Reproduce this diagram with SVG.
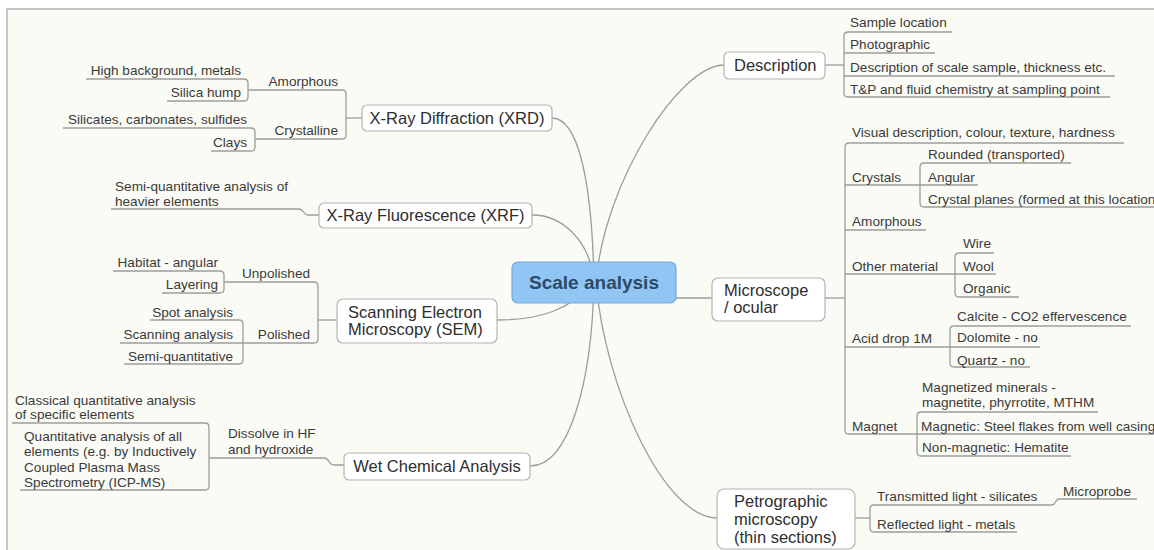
<svg xmlns="http://www.w3.org/2000/svg" width="1154" height="550" viewBox="0 0 1154 550">
<style>
.ln{fill:none;stroke:#9c9c9c;stroke-width:1.3}
.box{fill:#ffffff;stroke:#b3b3b3;stroke-width:1.2}
.mt{font-family:"Liberation Sans",Arial,sans-serif;font-size:16.5px;fill:#2e2e2e}
.st{font-family:"Liberation Sans",Arial,sans-serif;font-size:13.6px;fill:#3a3a3a}
.e{text-anchor:end}
.m{text-anchor:middle}
</style>
<rect x="0" y="0" width="1154" height="550" fill="#ffffff"/>
<rect x="7" y="9" width="1170" height="570" fill="#fbfbf6" stroke="#c6c6c6" stroke-width="2"/>

<g id="connectors">
  <path class="ln" d="M 552 118 C 578 118 592 180 594 282"/>
  <path class="ln" d="M 532 215 C 562 215 590 240 594 282"/>
  <path class="ln" d="M 497 320 C 540 320 570 310 594 282"/>
  <path class="ln" d="M 530 466 C 570 466 592 380 594 282"/>
  <path class="ln" d="M 724 65 C 680 65 605 180 596 282"/>
  <path class="ln" d="M 717 518 C 665 518 605 390 596 282"/>
  <path class="ln" d="M 676 298 H 712"/>
  <path class="ln" d="M 825 65 H 844"/>
  <path class="ln" d="M 848 32 Q 844 32 844 36 V 93 Q 844 97 848 97"/>
  <path class="ln" d="M 825 298 H 845"/>
  <path class="ln" d="M 849 143 Q 845 143 845 147 V 430 Q 845 434 849 434"/>
  <path class="ln" d="M 924 163 Q 920 163 920 167 V 203 Q 920 207 924 207"/>
  <path class="ln" d="M 959 253 Q 955 253 955 257 V 293 Q 955 297 959 297"/>
  <path class="ln" d="M 954 326 Q 950 326 950 330 V 363 Q 950 367 954 367"/>
  <path class="ln" d="M 921 412 Q 917 412 917 416 V 452 Q 917 456 921 456"/>
  <path class="ln" d="M 855 518 H 870"/>
  <path class="ln" d="M 874 505 Q 870 505 870 509 V 528 Q 870 532 874 532"/>
  <path class="ln" d="M 362 118 H 346"/>
  <path class="ln" d="M 342 90 Q 346 90 346 94 V 135 Q 346 139 342 139"/>
  <path class="ln" d="M 244 79 Q 248 79 248 83 V 97 Q 248 101 244 101"/>
  <path class="ln" d="M 251 128 Q 255 128 255 132 V 147 Q 255 151 251 151"/>
  <path class="ln" d="M 337 320 H 318"/>
  <path class="ln" d="M 314 282 Q 318 282 318 286 V 339 Q 318 343 314 343"/>
  <path class="ln" d="M 220 271 Q 224 271 224 275 V 289 Q 224 293 220 293"/>
  <path class="ln" d="M 239 320 Q 243 320 243 324 V 360 Q 243 364 239 364"/>
  <path class="ln" d="M 319 215 H 308 C 303 215 304 209 299 209"/>
  <path class="ln" d="M 344 465 H 334 C 328 465 330 458 324 458"/>
  <path class="ln" d="M 205 423 Q 209 423 209 427 V 486 Q 209 490 205 490"/>
</g>

<g id="central">
  <rect x="512" y="262" width="164" height="41" rx="6" fill="#90c5f4" stroke="#72abdf" stroke-width="1.2"/>
  <text x="594" y="289" class="m" font-family="Liberation Sans, Arial, sans-serif" font-size="19" font-weight="bold" fill="#2d4a69">Scale analysis</text>
</g>

<g id="xrd">
  <rect class="box" x="362" y="105" width="190" height="26" rx="5"/>
  <text class="mt m" x="457" y="124">X-Ray Diffraction (XRD)</text>
</g>
<g id="xrd-amorphous">
  <path class="ln" d="M 248 90 H 342"/>
  <text class="st e" x="338" y="86">Amorphous</text>
</g>
<g id="xrd-high-background">
  <path class="ln" d="M 86 79 H 244"/>
  <text class="st e" x="241" y="75">High background, metals</text>
</g>
<g id="xrd-silica-hump">
  <path class="ln" d="M 167 101 H 244"/>
  <text class="st e" x="241" y="97">Silica hump</text>
</g>
<g id="xrd-crystalline">
  <path class="ln" d="M 255 139 H 342"/>
  <text class="st e" x="338" y="135">Crystalline</text>
</g>
<g id="xrd-silicates">
  <path class="ln" d="M 63 128 H 251"/>
  <text class="st e" x="247" y="124">Silicates, carbonates, sulfides</text>
</g>
<g id="xrd-clays">
  <path class="ln" d="M 211 151 H 251"/>
  <text class="st e" x="247" y="147">Clays</text>
</g>

<g id="xrf">
  <rect class="box" x="319" y="203" width="213" height="25" rx="5"/>
  <text class="mt m" x="425.5" y="221">X-Ray Fluorescence (XRF)</text>
</g>
<g id="xrf-semi">
  <path class="ln" d="M 111 209 H 299"/>
  <text class="st" x="115" y="191">Semi-quantitative analysis of</text>
  <text class="st" x="115" y="206">heavier elements</text>
</g>

<g id="sem">
  <rect class="box" x="337" y="299" width="160" height="44" rx="6"/>
  <text class="mt" x="348" y="318">Scanning Electron</text>
  <text class="mt" x="348" y="335">Microscopy (SEM)</text>
</g>
<g id="sem-unpolished">
  <path class="ln" d="M 224 282 H 314"/>
  <text class="st e" x="310" y="278">Unpolished</text>
</g>
<g id="sem-habitat">
  <path class="ln" d="M 113 271 H 220"/>
  <text class="st e" x="218" y="267">Habitat - angular</text>
</g>
<g id="sem-layering">
  <path class="ln" d="M 162 293 H 220"/>
  <text class="st e" x="218" y="289">Layering</text>
</g>
<g id="sem-polished">
  <path class="ln" d="M 243 343 H 314"/>
  <text class="st e" x="310" y="339">Polished</text>
</g>
<g id="sem-spot">
  <path class="ln" d="M 150 320 H 239"/>
  <text class="st e" x="233" y="317">Spot analysis</text>
</g>
<g id="sem-scanning">
  <path class="ln" d="M 120 343 H 243"/>
  <text class="st e" x="233" y="339">Scanning analysis</text>
</g>
<g id="sem-semi">
  <path class="ln" d="M 124 364 H 239"/>
  <text class="st e" x="233" y="361">Semi-quantitative</text>
</g>

<g id="wet">
  <rect class="box" x="344" y="453" width="186" height="27" rx="5"/>
  <text class="mt m" x="437" y="472">Wet Chemical Analysis</text>
</g>
<g id="wet-dissolve">
  <path class="ln" d="M 209 458 H 324"/>
  <text class="st" x="228" y="438">Dissolve in HF</text>
  <text class="st" x="228" y="454">and hydroxide</text>
</g>
<g id="wet-classical">
  <path class="ln" d="M 12 423 H 205"/>
  <text class="st" x="15" y="405">Classical quantitative analysis</text>
  <text class="st" x="15" y="419">of specific elements</text>
</g>
<g id="wet-icpms">
  <path class="ln" d="M 20 490 H 205"/>
  <text class="st" x="24" y="441">Quantitative analysis of all</text>
  <text class="st" x="24" y="456">elements (e.g. by Inductively</text>
  <text class="st" x="24" y="472">Coupled Plasma Mass</text>
  <text class="st" x="24" y="487">Spectrometry (ICP-MS)</text>
</g>

<g id="description">
  <rect class="box" x="724" y="52" width="101" height="27" rx="5"/>
  <text class="mt" x="734" y="71">Description</text>
</g>
<g id="desc-sample-location">
  <path class="ln" d="M 848 32 H 952"/>
  <text class="st" x="850" y="27">Sample location</text>
</g>
<g id="desc-photographic">
  <path class="ln" d="M 844 53 H 935"/>
  <text class="st" x="850" y="49">Photographic</text>
</g>
<g id="desc-scale-sample">
  <path class="ln" d="M 844 76 H 1115"/>
  <text class="st" x="850" y="72">Description of scale sample, thickness etc.</text>
</g>
<g id="desc-tp">
  <path class="ln" d="M 848 97 H 1110"/>
  <text class="st" x="850" y="94">T&amp;P and fluid chemistry at sampling point</text>
</g>

<g id="microscope">
  <rect class="box" x="712" y="278" width="113" height="43" rx="6"/>
  <text class="mt" x="724" y="296">Microscope</text>
  <text class="mt" x="724" y="313">/ ocular</text>
</g>
<g id="mic-visual">
  <path class="ln" d="M 849 143 H 1124"/>
  <text class="st" x="852" y="137">Visual description, colour, texture, hardness</text>
</g>
<g id="mic-crystals">
  <path class="ln" d="M 845 185 H 920"/>
  <text class="st" x="852" y="182">Crystals</text>
</g>
<g id="mic-rounded">
  <path class="ln" d="M 924 163 H 1071"/>
  <text class="st" x="928" y="159">Rounded (transported)</text>
</g>
<g id="mic-angular">
  <path class="ln" d="M 920 185 H 978"/>
  <text class="st" x="928" y="182">Angular</text>
</g>
<g id="mic-crystal-planes">
  <path class="ln" d="M 924 207 H 1160"/>
  <text class="st" x="928" y="204">Crystal planes (formed at this location</text>
</g>
<g id="mic-amorphous">
  <path class="ln" d="M 845 230 H 926"/>
  <text class="st" x="852" y="226">Amorphous</text>
</g>
<g id="mic-other">
  <path class="ln" d="M 845 274 H 955"/>
  <text class="st" x="852" y="271">Other material</text>
</g>
<g id="mic-wire">
  <path class="ln" d="M 959 253 H 994"/>
  <text class="st" x="963" y="248">Wire</text>
</g>
<g id="mic-wool">
  <path class="ln" d="M 955 274 H 996"/>
  <text class="st" x="963" y="271">Wool</text>
</g>
<g id="mic-organic">
  <path class="ln" d="M 959 297 H 1019"/>
  <text class="st" x="963" y="293">Organic</text>
</g>
<g id="mic-acid">
  <path class="ln" d="M 845 347 H 950"/>
  <text class="st" x="852" y="343">Acid drop 1M</text>
</g>
<g id="mic-calcite">
  <path class="ln" d="M 954 326 H 1131"/>
  <text class="st" x="957" y="321">Calcite - CO2 effervescence</text>
</g>
<g id="mic-dolomite">
  <path class="ln" d="M 950 347 H 1040"/>
  <text class="st" x="957" y="342">Dolomite - no</text>
</g>
<g id="mic-quartz">
  <path class="ln" d="M 954 367 H 1030"/>
  <text class="st" x="957" y="365">Quartz - no</text>
</g>
<g id="mic-magnet">
  <path class="ln" d="M 849 434 H 917"/>
  <text class="st" x="852" y="431">Magnet</text>
</g>
<g id="mic-magnetized">
  <path class="ln" d="M 921 412 H 1098"/>
  <text class="st" x="922" y="392">Magnetized minerals -</text>
  <text class="st" x="922" y="407">magnetite, phyrrotite, MTHM</text>
</g>
<g id="mic-magnetic">
  <path class="ln" d="M 917 434 H 1160"/>
  <text class="st" x="921" y="431">Magnetic: Steel flakes from well casing</text>
</g>
<g id="mic-nonmagnetic">
  <path class="ln" d="M 921 456 H 1071"/>
  <text class="st" x="922" y="452">Non-magnetic: Hematite</text>
</g>

<g id="petrographic">
  <rect class="box" x="717" y="489" width="138" height="60" rx="7"/>
  <text class="mt" x="734" y="507">Petrographic</text>
  <text class="mt" x="734" y="525">microscopy</text>
  <text class="mt" x="734" y="543">(thin sections)</text>
</g>
<g id="pet-transmitted">
  <path class="ln" d="M 874 505 H 1052 C 1056 505 1055 499 1059 499"/>
  <text class="st" x="877" y="501">Transmitted light - silicates</text>
</g>
<g id="pet-microprobe">
  <path class="ln" d="M 1059 499 H 1137"/>
  <text class="st" x="1063" y="496">Microprobe</text>
</g>
<g id="pet-reflected">
  <path class="ln" d="M 874 532 H 1017"/>
  <text class="st" x="877" y="529">Reflected light - metals</text>
</g>
</svg>
